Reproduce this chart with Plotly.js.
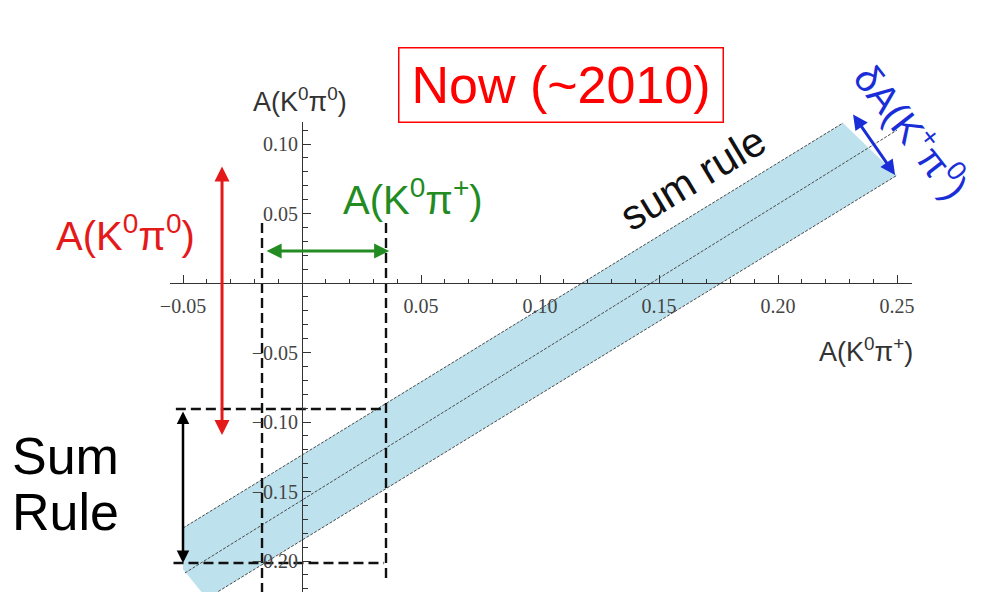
<!DOCTYPE html>
<html><head><meta charset="utf-8">
<script src="https://cdn.plot.ly/plotly-3.0.1.min.js"></script>
<style>html,body{margin:0;padding:0;background:#fff;} #chart{width:989px;height:592px;}</style>
</head><body><div id="chart"></div>
<script>
const W = 989, H = 592;
// tick labels
const xTickVals = [-0.05, 0.05, 0.10, 0.15, 0.20, 0.25];
const xTickText = ['\u22120.05', '0.05', '0.10', '0.15', '0.20', '0.25'];
const yTickVals = [-0.20, -0.15, -0.10, -0.05, 0.05, 0.10];
const yTickText = ['\u22120.20', '\u22120.15', '\u22120.10', '\u22120.05', '0.05', '0.10'];
// sum-rule band (corners) and its lines
const bandX = [-0.0500, 0.2273, 0.2500, -0.0400, -0.0500];
const bandY = [-0.1763, 0.1151, 0.0775, -0.2270, -0.2060];
const upperEdgeX = [-0.0500, 0.2273], upperEdgeY = [-0.1763, 0.1151];
const centerX = [-0.0492, 0.2500], centerY = [-0.2086, 0.1100];
const lowerEdgeX = [-0.0400, 0.2500], lowerEdgeY = [-0.2270, 0.0775];
// dashed guide lines
const dashTopX = [-0.0530, 0.0353], dashTopY = [-0.0906, -0.0906];
const dashBotX = [-0.0540, 0.0345], dashBotY = [-0.2014, -0.2014];
const dashLeftX = [-0.0168, -0.0168], dashLeftY = [0.0432, -0.2230];
const dashRightX = [0.0353, 0.0353], dashRightY = [0.0432, -0.2130];
// arrows [tail, head]
const redArrowX = [-0.0336, -0.0336], redArrowY = [0.0849, -0.1094];
const greenArrowX = [-0.0155, 0.0366], greenArrowY = [0.0230, 0.0230];
const blackArrowX = [-0.0500, -0.0500], blackArrowY = [-0.0914, -0.2014];
const blueArrowX = [0.2311, 0.2492], blueArrowY = [0.1223, 0.0777];

const lineStyle = {color: '#4a4a4a', width: 1, dash: '3px,1.5px'};
const dashStyle = {color: '#111', width: 2.4, dash: '10px,5px'};

const traces = [
  {x: bandX, y: bandY, mode: 'lines', fill: 'toself', fillcolor: '#bde2ee', line: {width: 0}, hoverinfo: 'skip'},
  {x: upperEdgeX, y: upperEdgeY, mode: 'lines', line: lineStyle},
  {x: centerX, y: centerY, mode: 'lines', line: lineStyle},
  {x: lowerEdgeX, y: lowerEdgeY, mode: 'lines', line: lineStyle},
  {x: dashTopX, y: dashTopY, mode: 'lines', line: dashStyle},
  {x: dashBotX, y: dashBotY, mode: 'lines', line: dashStyle},
  {x: dashLeftX, y: dashLeftY, mode: 'lines', line: dashStyle},
  {x: dashRightX, y: dashRightY, mode: 'lines', line: dashStyle}
];

function px2x(p) { return p / W; }
function py2y(p) { return 1 - p / H; }

function arrow(xs, ys, color, width) {
  return {x: xs[1], y: ys[1], ax: xs[0], ay: ys[0], xref: 'x', yref: 'y', axref: 'x', ayref: 'y',
    text: '', showarrow: true, arrowhead: 2, arrowside: 'end+start', arrowsize: 1, arrowwidth: width, arrowcolor: color};
}
function label(text, px, py, size, color, angle, family) {
  return {text: text, x: px2x(px), y: py2y(py), xref: 'paper', yref: 'paper', showarrow: false,
    xanchor: 'center', yanchor: 'middle', textangle: angle || 0,
    font: {family: family || 'Liberation Sans, Arial, sans-serif', size: size, color: color}};
}

const annotations = [
  arrow(redArrowX, redArrowY, '#e41a1a', 3),
  arrow(greenArrowX, greenArrowY, '#228b22', 3),
  arrow(blackArrowX, blackArrowY, '#000', 2.5),
  arrow(blueArrowX, blueArrowY, '#1a2ed8', 3),
  Object.assign(label('Now (~2010)', 560.5, 84.5, 52, '#ff0000'),
    {bordercolor: '#ff0000', borderwidth: 1.5, borderpad: 6, width: 311, height: 61}),
  label('A(K<sup>0</sup>π<sup>0</sup>)', 300, 100, 27, '#333'),
  label('A(K<sup>0</sup>π<sup>+</sup>)', 866, 350, 27, '#333'),
  label('A(K<sup>0</sup>π<sup>0</sup>)', 125, 233, 40, '#e41a1a'),
  label('A(K<sup>0</sup>π<sup>+</sup>)', 413, 197, 40, '#228b22'),
  label('sum rule', 692, 178, 42, '#111', -31),
  label('δA(K<sup>+</sup>π<sup>0</sup>)', 914, 130, 39, '#1a2ed8', 52),
  Object.assign(label('Sum', 10, 456, 52, '#000'), {xanchor: 'left'}),
  Object.assign(label('Rule', 10, 512, 52, '#000'), {xanchor: 'left'})
];

const tickFont = {family: 'Liberation Serif, Times New Roman, serif', size: 20, color: '#444'};

const layout = {
  width: W, height: H,
  margin: {l: 0, r: 0, t: 0, b: 0},
  paper_bgcolor: '#fff', plot_bgcolor: 'rgba(0,0,0,0)',
  showlegend: false,
  xaxis: {
    domain: [170 / W, 912 / W], range: [(170 - 302) / 2380, (912 - 302) / 2380],
    anchor: 'free', position: (H - 283) / H,
    showgrid: false, zeroline: false, showline: true, linecolor: '#333', linewidth: 1,
    tickmode: 'array', tickvals: xTickVals, ticktext: xTickText,
    ticks: 'inside', ticklen: 8, tickcolor: '#333', tickwidth: 1,
    tickfont: tickFont, ticklabelstandoff: 5,
    minor: {tickmode: 'linear', tick0: 0, dtick: 0.01, ticks: 'inside', ticklen: 4, tickcolor: '#333', tickwidth: 1},
    fixedrange: true
  },
  yaxis: {
    domain: [0, (H - 122) / H], range: [(283 - H) / 1390, (283 - 122) / 1390],
    anchor: 'free', position: 302 / W,
    showgrid: false, zeroline: false, showline: true, linecolor: '#333', linewidth: 1,
    tickmode: 'array', tickvals: yTickVals, ticktext: yTickText,
    ticks: 'inside', ticklen: 8, tickcolor: '#333', tickwidth: 1,
    tickfont: tickFont,
    minor: {tickmode: 'linear', tick0: 0, dtick: 0.01, ticks: 'inside', ticklen: 5, tickcolor: '#333', tickwidth: 1},
    fixedrange: true
  },
  annotations: annotations
};

Plotly.newPlot('chart', traces, layout, {staticPlot: true, displayModeBar: false});
</script>
</body></html>
